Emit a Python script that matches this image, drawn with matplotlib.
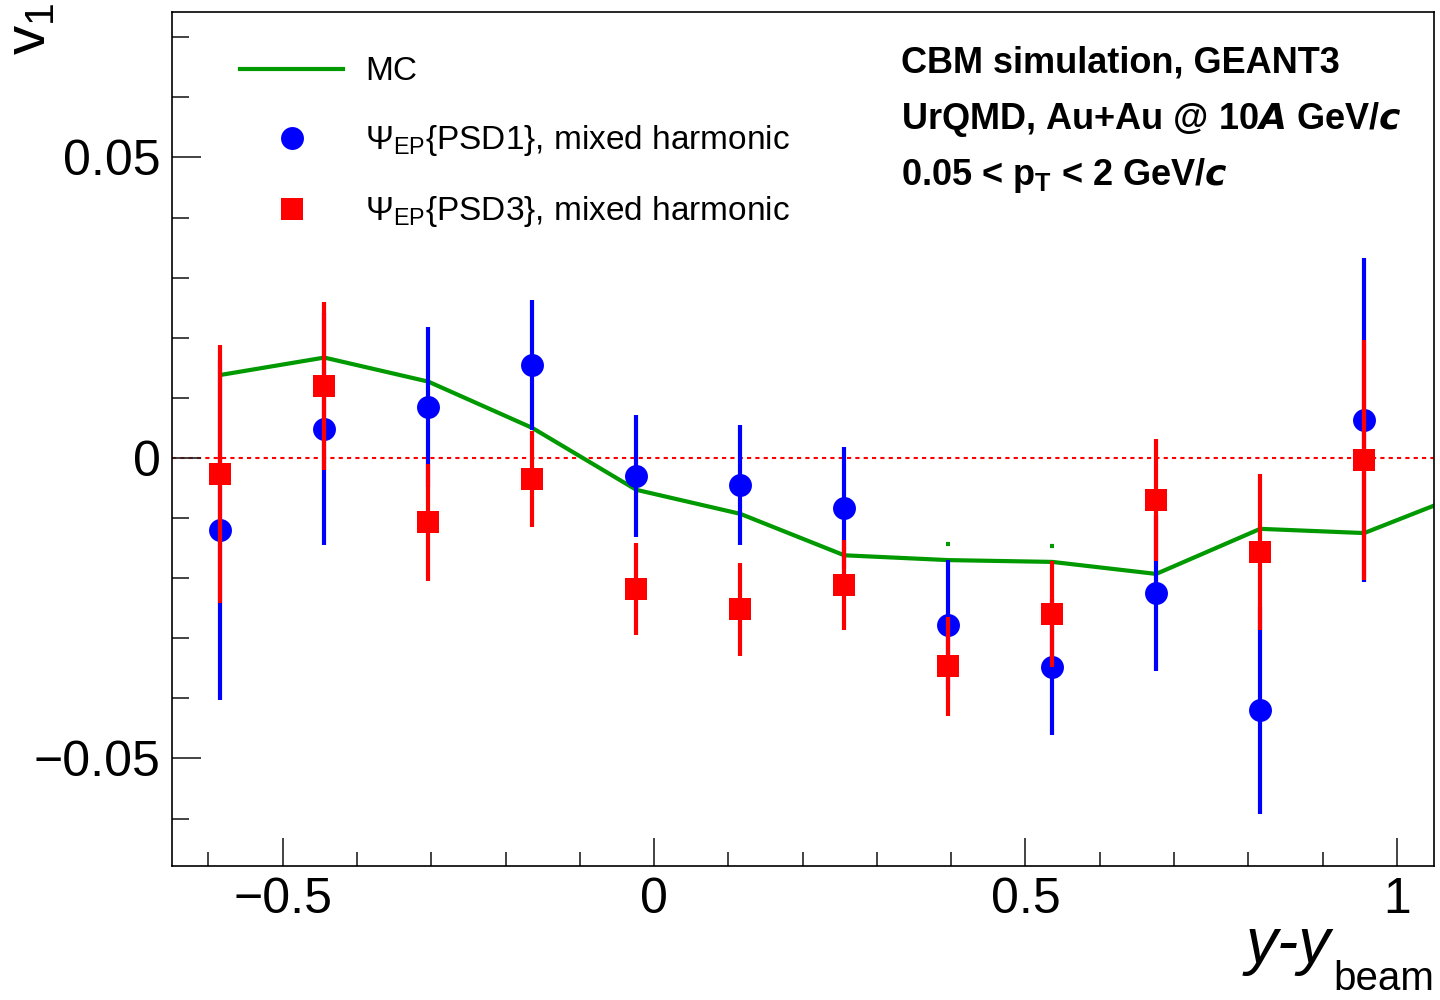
import matplotlib
matplotlib.use("Agg")
import matplotlib.pyplot as plt
from matplotlib.lines import Line2D
from matplotlib.ticker import MultipleLocator

plt.rcParams["font.family"] = ["Liberation Sans", "DejaVu Sans"]
plt.rcParams["mathtext.fontset"] = "custom"
plt.rcParams["mathtext.rm"] = "Liberation Sans"
plt.rcParams["mathtext.it"] = "Liberation Sans:italic"
plt.rcParams["mathtext.bf"] = "Liberation Sans:bold"

# rapidity bin centres (y - y_beam)
y_bins = [-0.584, -0.444, -0.304, -0.164, -0.024, 0.116, 0.256, 0.396, 0.536, 0.676, 0.816, 0.956]

# MC reference (one more bin beyond the right edge)
mc_x = y_bins + [1.096]
mc_v1 = [0.0138, 0.0167, 0.0127, 0.0050, -0.0053, -0.0093, -0.0162, -0.0170, -0.0173, -0.0193, -0.0118, -0.0125, -0.0057]
mc_err = [0.0028, 0.0027, 0.0026, 0.0027, 0.0027, 0.0027, 0.0027, 0.0027, 0.0027, 0.0027, 0.0027, 0.0027, 0.0027]

# PSD1 event plane, mixed harmonic
psd1_v1 = [-0.0120, 0.0048, 0.0085, 0.0155, -0.0030, -0.0045, -0.0083, -0.0278, -0.0348, -0.0225, -0.0420, 0.0063]
psd1_err = [0.0283, 0.0193, 0.0133, 0.0108, 0.0102, 0.0100, 0.0102, 0.0108, 0.0113, 0.0130, 0.0172, 0.0270]

# PSD3 event plane, mixed harmonic
psd3_v1 = [-0.0027, 0.0120, -0.0107, -0.0035, -0.0218, -0.0252, -0.0212, -0.0347, -0.0260, -0.0070, -0.0157, -0.0003]
psd3_err = [0.0215, 0.0140, 0.0097, 0.0080, 0.0077, 0.0077, 0.0075, 0.0082, 0.0088, 0.0102, 0.0130, 0.0200]

GREEN = "#009900"
BLUE = "#0000ff"
RED = "#ff0000"

fig = plt.figure(figsize=(14.4, 10), dpi=100)
ax = fig.add_axes([172 / 1440, 134 / 1000, 1262 / 1440, 854 / 1000])

ax.axhline(0, color=RED, lw=1.5, ls=(0, (2, 2)), zorder=1)

# MC curve + its small error caps
ax.plot(mc_x, mc_v1, color=GREEN, lw=3, zorder=2)
ax.errorbar(mc_x, mc_v1, yerr=mc_err, fmt="none", ecolor=GREEN, elinewidth=0,
            capsize=1.5, capthick=3, zorder=2)

ax.errorbar(y_bins, psd1_v1, yerr=psd1_err, fmt="o", color=BLUE, ms=16.5, mew=0,
            elinewidth=3, capsize=1.5, capthick=3, zorder=3)
ax.errorbar(y_bins, psd3_v1, yerr=psd3_err, fmt="s", color=RED, ms=16.5, mew=0,
            elinewidth=3, capsize=1.5, capthick=3, zorder=4)

ax.set_xlim(-0.649, 1.05)
ax.set_ylim(-0.0679, 0.0742)

ax.xaxis.set_major_locator(MultipleLocator(0.5))
ax.xaxis.set_minor_locator(MultipleLocator(0.1))
ax.yaxis.set_major_locator(MultipleLocator(0.05))
ax.yaxis.set_minor_locator(MultipleLocator(0.01))
ax.xaxis.set_major_formatter(plt.FuncFormatter(lambda v, p: f"{v:g}".replace("-", "\u2212")))
ax.yaxis.set_major_formatter(plt.FuncFormatter(lambda v, p: f"{v:g}".replace("-", "\u2212")))
ax.tick_params(which="both", direction="in", top=False, right=False, width=1.2,
               labelsize=36, color="#222222")
ax.tick_params(axis="y", which="major", length=21, pad=8)
ax.tick_params(axis="y", which="minor", length=12)
ax.tick_params(axis="x", which="major", length=20, pad=8)
ax.tick_params(axis="x", which="minor", length=10)
for s in ax.spines.values():
    s.set_linewidth(1.2)

# axis titles, ROOT style
fig.text(0.021, 0.997, r"v$_1$", rotation=90, ha="center", va="top", fontsize=42)
fig.text(1331 / 1440, 1 - 963 / 1000, "y-y", style="italic", ha="right",
         va="baseline", fontsize=46)
fig.text(1333 / 1440, 1 - 990 / 1000, "beam", ha="left", va="baseline", fontsize=29)

handles = [
    Line2D([], [], color=GREEN, lw=3),
    Line2D([], [], color=BLUE, marker="o", ls="none", ms=16.5, mew=0),
    Line2D([], [], color=RED, marker="s", ls="none", ms=16.5, mew=0),
]
labels = ["MC",
          r"$\Psi_{\mathrm{EP}}${PSD1}, mixed harmonic",
          r"$\Psi_{\mathrm{EP}}${PSD3}, mixed harmonic"]
ax.legend(handles, labels, loc="upper left", bbox_to_anchor=(0.054, 0.948),
          frameon=False, fontsize=24, handlelength=3.1, handletextpad=0.65,
          labelspacing=1.08, borderpad=0, borderaxespad=0)

info = ["CBM simulation, GEANT3",
        r"UrQMD, Au+Au @ 10$\mathbfit{A}$ GeV/$\mathbfit{c}$",
        r"0.05 < p$_{\mathbf{T}}$ < 2 GeV/$\mathbfit{c}$"]
for i, line in enumerate(info):
    ax.text(0.578, 0.9286 - i * 0.0656, line, transform=ax.transAxes,
            fontsize=26, fontweight="bold", va="baseline", ha="left")

fig.savefig("out.png", dpi=100)
